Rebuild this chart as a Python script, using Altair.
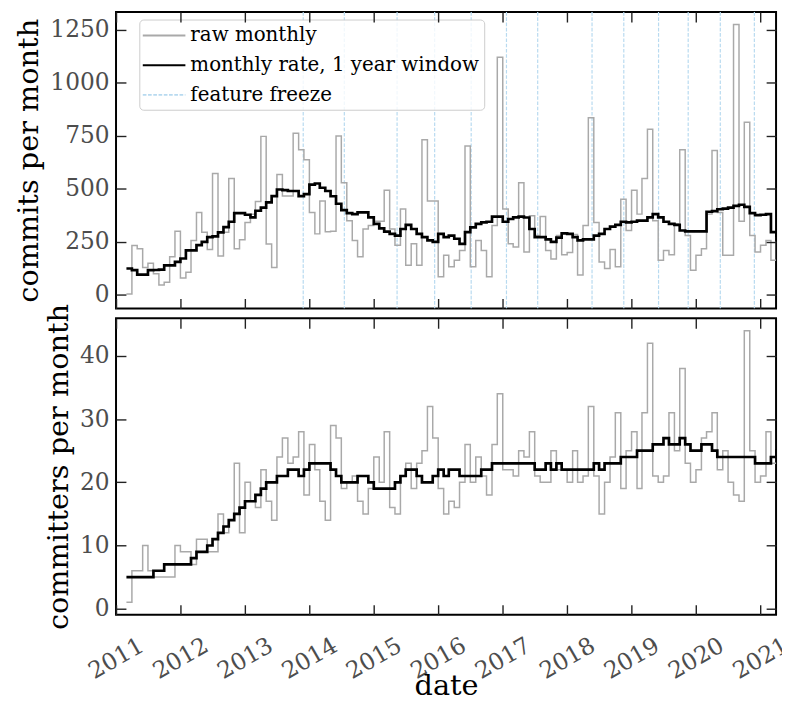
import altair as alt
import pandas as pd

FONT = "DejaVu Serif"

FIRST_MONTH = "2011-03-01"
SERIES = ["raw monthly", "monthly rate, 1 year window", "feature freeze"]

RAW_COMMITS = [
    5, 233, 218, 130, 150, 100, 47, 60, 180, 300,
    80, 107, 257, 389, 296, 215, 572, 184, 296, 549,
    218, 260, 342, 380, 440, 747, 240, 130, 567, 466,
    466, 762, 684, 637, 389, 288, 443, 298, 300, 749,
    529, 350, 257, 180, 311, 327, 347, 347, 493, 311,
    234, 405, 140, 241, 140, 731, 443, 443, 86, 187,
    133, 164, 210, 702, 133, 257, 210, 86, 327, 1119,
    405, 241, 226, 529, 203, 373, 280, 370, 210, 170,
    280, 190, 200, 285, 94, 327, 835, 342, 156, 125,
    214, 133, 451, 304, 493, 381, 549, 780, 350, 164,
    210, 190, 335, 684, 280, 117, 187, 218, 381, 680,
    389, 187, 187, 1274, 347, 813, 280, 203, 234, 257,
    164, 250, 250,
]
RATE_COMMITS = [
    125, 117, 96, 96, 117, 118, 120, 140, 140, 156,
    172, 210, 210, 235, 250, 273, 276, 295, 320, 345,
    386, 386, 378, 366, 397, 412, 436, 466, 497, 494,
    490, 490, 466, 475, 520, 525, 505, 490, 465, 430,
    400, 386, 381, 389, 389, 366, 335, 314, 299, 288,
    280, 311, 330, 311, 288, 273, 257, 250, 288, 273,
    280, 265, 241, 296, 319, 335, 342, 345, 369, 369,
    345, 358, 366, 369, 365, 311, 273, 273, 262, 250,
    270, 290, 288, 273, 257, 262, 262, 280, 288, 311,
    322, 330, 345, 342, 345, 350, 350, 366, 381, 366,
    345, 335, 330, 304, 300, 300, 300, 300, 392, 395,
    404, 407, 412, 420, 425, 415, 386, 376, 378, 381,
    296, 280, 280,
]
RAW_COMMITTERS = [
    1, 6, 6, 10, 6, 5, 5, 5, 5, 10,
    9, 9, 7, 11, 11, 9, 9, 15, 12, 14,
    23, 12, 20, 17, 16, 22, 17, 14, 24, 27,
    23, 24, 28, 18, 26, 22, 17, 14, 29, 27,
    19, 20, 21, 17, 15, 19, 24, 20, 28, 16,
    15, 21, 23, 19, 23, 25, 32, 27, 19, 15,
    17, 16, 20, 26, 20, 24, 21, 18, 26, 34,
    22, 22, 21, 25, 24, 28, 21, 20, 20, 25,
    22, 22, 20, 25, 20, 21, 32, 21, 15, 20,
    24, 31, 19, 25, 28, 19, 31, 42, 21, 20,
    21, 31, 25, 38, 23, 20, 22, 27, 28, 31,
    22, 25, 20, 18, 17, 44, 25, 20, 21, 28,
    23, 23, 23,
]
RATE_COMMITTERS = [
    5, 5, 5, 5, 5, 6, 6, 7, 7, 7,
    7, 7, 8, 9, 9, 10, 11, 12, 13, 14,
    15, 16, 17, 17, 18, 19, 20, 20, 21, 21,
    22, 22, 21, 22, 23, 23, 23, 23, 22, 21,
    20, 20, 20, 21, 21, 20, 19, 19, 19, 19,
    20, 21, 22, 22, 21, 20, 20, 21, 22, 21,
    22, 22, 21, 21, 21, 21, 22, 22, 23, 23,
    23, 23, 23, 23, 23, 23, 22, 22, 23, 22,
    23, 22, 22, 22, 22, 22, 22, 23, 22, 23,
    23, 23, 24, 24, 24, 25, 25, 25, 26, 26,
    27, 26, 26, 27, 26, 25, 25, 26, 26, 25,
    24, 24, 24, 24, 24, 24, 24, 23, 23, 23,
    24, 25, 25,
]
FREEZE_DATES = [
    "2013-11-27", "2014-07-18", "2015-05-13", "2015-12-12", "2016-07-06",
    "2017-01-22", "2017-07-18", "2018-05-22", "2018-11-18", "2019-06-03",
    "2019-11-18", "2020-05-18", "2020-11-27",
]
YEAR_TICKS = list(range(2011, 2022))
COMMIT_TICKS = [0, 250, 500, 750, 1000, 1250]
COMMITTER_TICKS = [0, 10, 20, 30, 40]

months = pd.date_range(FIRST_MONTH, periods=len(RAW_COMMITS), freq="MS").strftime("%Y-%m-%d")

top_raw = pd.DataFrame({"date": months, "value": RAW_COMMITS, "series": SERIES[0]})
top_rate = pd.DataFrame({"date": months, "value": RATE_COMMITS, "series": SERIES[1]})
freeze = pd.DataFrame({"date": FREEZE_DATES, "series": SERIES[2]})
bot_raw = pd.DataFrame({"date": months, "value": RAW_COMMITTERS})
bot_rate = pd.DataFrame({"date": months, "value": RATE_COMMITTERS})

W = 666
H_TOP = 299
H_BOT = 299
GREY = "#a9a9a9"
BLUE = "#b8daf0"

xscale = alt.Scale(domain=[alt.DateTime(year=2011, month=1, date=1),
                           alt.DateTime(year=2021, month=3, date=30)])
y_top = alt.Scale(domain=[-63, 1332], nice=False, zero=False)
y_bot = alt.Scale(domain=[-0.95, 45.95], nice=False, zero=False)

year_vals = [alt.DateTime(year=y, month=1, date=1) for y in YEAR_TICKS]

INWARD = {"expr": "-10"}
common_axis = dict(tickSize=INWARD, domain=False, grid=False, zindex=1,
                   tickColor="#222222", tickWidth=1.4,
                   labelFont=FONT, titleFont=FONT, labelColor="#4d4d4d",
                   titleColor="black", titleFontWeight="normal")


def xaxis(orient, labels, title=None):
    kw = dict(common_axis)
    if labels:
        kw.update(labelAngle=-30, labelAlign="center", labelBaseline="middle",
                  labelPadding=54, labelFontSize=23.5)
    if title:
        kw.update(titleFontSize=29, titleBaseline="alphabetic", titleY=81)
    return alt.Axis(orient=orient, values=year_vals, format="%Y", labels=labels,
                    title=title, **kw)


def yaxis(orient, ticks, title=None):
    kw = dict(common_axis)
    if title:
        kw.update(labelFontSize=23.5, labelPadding=17, titleFontSize=29, titlePadding=6)
        return alt.Axis(orient=orient, values=ticks, format="d", title=title, **kw)
    return alt.Axis(orient=orient, values=ticks, labels=False, title=None, **kw)


legend = alt.Legend(
    title=None, orient="none", legendX=23.5, legendY=7.5,
    symbolType="M-2.15,0H2.15", symbolSize=400, symbolOffset=9, symbolStrokeWidth=2,
    labelFont=FONT, labelFontSize=20, labelColor="black", labelLimit=500,
    labelOffset=15.5, padding=5, rowPadding=9,
    strokeColor="#cccccc", fillColor="rgba(255,255,255,0.8)", cornerRadius=4,
)
color = alt.Color("series:N", scale=alt.Scale(domain=SERIES, range=[GREY, "black", BLUE]),
                  legend=legend)
dash = alt.StrokeDash("series:N",
                      scale=alt.Scale(domain=SERIES, range=[[1, 0], [1, 0], [3.7, 1.6]]),
                      legend=legend)

rules = alt.Chart(freeze).mark_rule(strokeWidth=1.2, clip=True).encode(
    x=alt.X("date:T", scale=xscale, axis=None),
    color=color, strokeDash=dash,
)
gray_top = alt.Chart(top_raw).mark_line(interpolate="step-after", strokeWidth=1.5, clip=True).encode(
    x=alt.X("date:T", scale=xscale, axis=xaxis("bottom", False)),
    y=alt.Y("value:Q", scale=y_top, axis=yaxis("left", COMMIT_TICKS, "commits per month")),
    color=color, strokeDash=dash,
)
black_top = alt.Chart(top_rate).mark_line(interpolate="step-after", strokeWidth=2.7, clip=True).encode(
    x=alt.X("date:T", scale=xscale, axis=xaxis("top", False)),
    y=alt.Y("value:Q", scale=y_top, axis=yaxis("right", COMMIT_TICKS)),
    color=color, strokeDash=dash,
)
top = alt.layer(rules, gray_top, black_top).resolve_scale(
    x="independent", y="independent").properties(width=W, height=H_TOP)

gray_bot = alt.Chart(bot_raw).mark_line(interpolate="step-after", strokeWidth=1.5, color=GREY,
                                        clip=True).encode(
    x=alt.X("date:T", scale=xscale, axis=xaxis("bottom", True, "date")),
    y=alt.Y("value:Q", scale=y_bot, axis=yaxis("left", COMMITTER_TICKS, "committers per month")),
)
black_bot = alt.Chart(bot_rate).mark_line(interpolate="step-after", strokeWidth=2.7, color="black",
                                          clip=True).encode(
    x=alt.X("date:T", scale=xscale, axis=xaxis("top", False)),
    y=alt.Y("value:Q", scale=y_bot, axis=yaxis("right", COMMITTER_TICKS)),
)
bottom = alt.layer(gray_bot, black_bot).resolve_scale(
    x="independent", y="independent").properties(width=W, height=H_BOT)

chart = alt.vconcat(top, bottom, spacing=10, bounds="flush").resolve_scale(
    color="independent", strokeDash="independent"
).resolve_legend(color="independent", strokeDash="independent").properties(
    padding={"left": 6, "top": -1, "right": -11, "bottom": 0}
).configure(font=FONT).configure_view(stroke="black", strokeWidth=2)

chart.save("out.html", embed_options={"renderer": "svg", "actions": False})
